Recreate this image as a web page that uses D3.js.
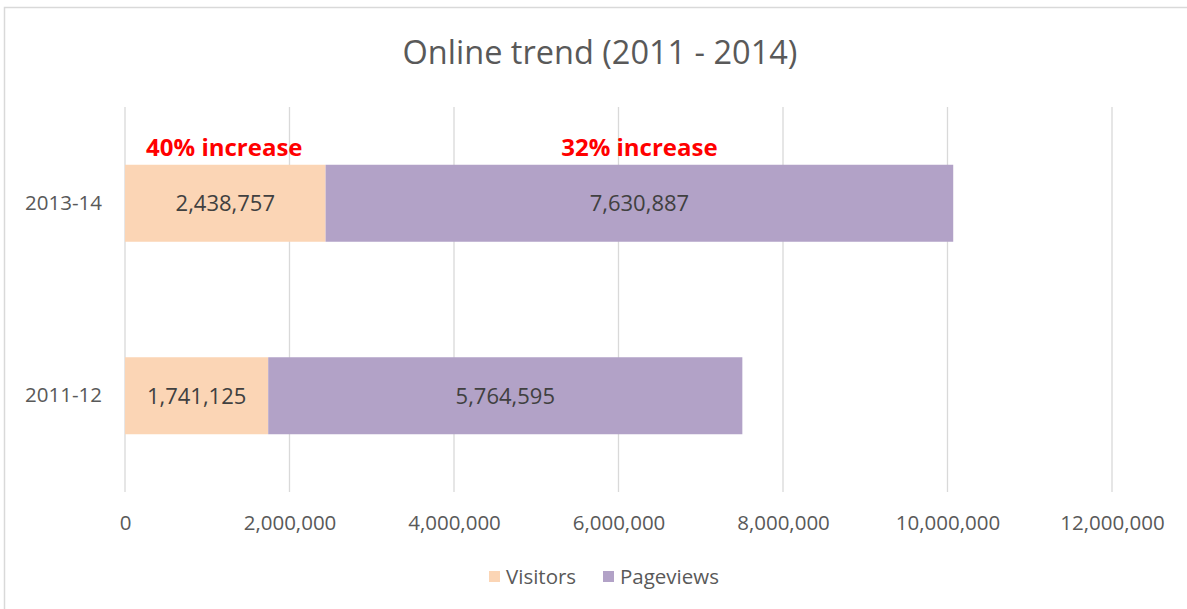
<!DOCTYPE html>
<html>
<head>
<meta charset="utf-8">
<script src="https://cdn.jsdelivr.net/npm/d3@7"></script>
<style>
  html, body { margin: 0; padding: 0; background: #fff; }
  svg { display: block; }
  text { font-family: "Open Sans", "Noto Sans", sans-serif; }
</style>
</head>
<body>
<script>
// ---- data ----
const categories = ["2013-14", "2011-12"];
const visitors = [2438757, 1741125];
const pageviews = [7630887, 5764595];
const seriesNames = ["Visitors", "Pageviews"];
const seriesColors = ["#FBD5B5", "#B2A2C7"];
const xTicks = [0, 2000000, 4000000, 6000000, 8000000, 10000000, 12000000];
const annotations = ["40% increase", "32% increase"];
const title = "Online trend (2011 - 2014)";

const W = 1187, H = 609;
const svg = d3.select("body").append("svg").attr("width", W).attr("height", H);

// chart frame
svg.append("rect").attr("x", 4.5).attr("y", 7.5).attr("width", W + 10).attr("height", H + 10)
  .attr("fill", "#fff").attr("stroke", "#D9D9D9").attr("stroke-width", 1.5);

const plot = { left: 125, right: 1112, top: 107, bottom: 492 };

const x = d3.scaleLinear().domain([0, 12000000]).range([plot.left, plot.right]);
const y = d3.scaleBand().domain(categories).range([plot.top, plot.bottom])
  .paddingInner(0.6).paddingOuter(0.3);

// gridlines
svg.append("g").selectAll("line").data(xTicks).join("line")
  .attr("x1", d => x(d)).attr("x2", d => x(d))
  .attr("y1", plot.top).attr("y2", plot.bottom)
  .attr("stroke", "#D9D9D9").attr("stroke-width", 1.3);

// x-axis labels
const fmt = d3.format(",");
const xAxis = d3.axisBottom(x).tickValues(xTicks).tickFormat(fmt).tickSize(0).tickPadding(0);
const gx = svg.append("g").attr("transform", `translate(0,${plot.bottom + 23})`).call(xAxis);
gx.select(".domain").remove();
gx.selectAll("text").attr("font-size", 20.5).attr("fill", "#595959")
  .attr("font-family", "'Open Sans', sans-serif").attr("dy", "0.71em");

// y-axis labels
const yAxis = d3.axisLeft(y).tickSize(0).tickPadding(23);
const gy = svg.append("g").attr("transform", `translate(${plot.left},0)`).call(yAxis);
gy.select(".domain").remove();
gy.selectAll("text").attr("font-size", 20.5).attr("fill", "#595959")
  .attr("font-family", "'Open Sans', sans-serif");

// stacked bars
const rows = categories.map((c, i) => ({ cat: c, Visitors: visitors[i], Pageviews: pageviews[i] }));
const stack = d3.stack().keys(seriesNames)(rows);
const color = d3.scaleOrdinal().domain(seriesNames).range(seriesColors);

const layers = svg.append("g").selectAll("g").data(stack).join("g")
  .attr("fill", d => color(d.key));
layers.selectAll("rect").data(d => d).join("rect")
  .attr("x", d => x(d[0])).attr("width", d => x(d[1]) - x(d[0]))
  .attr("y", d => y(d.data.cat)).attr("height", y.bandwidth());

// data labels
layers.selectAll("text.val").data(d => d).join("text").attr("class", "val")
  .attr("x", d => (x(d[0]) + x(d[1])) / 2)
  .attr("y", d => y(d.data.cat) + y.bandwidth() / 2)
  .attr("dy", "0.36em").attr("text-anchor", "middle")
  .attr("font-size", 22).attr("fill", "#404040")
  .text(d => fmt(d[1] - d[0]));

// annotations above top bar segments
const topRow = stack.map(s => s[0]);
svg.append("g").selectAll("text").data(topRow).join("text")
  .attr("x", (d, i) => (x(d[0]) + x(d[1])) / 2 + (i === 0 ? -1 : 0))
  .attr("y", y(categories[0]) - 9)
  .attr("text-anchor", "middle").attr("font-size", 24).attr("font-weight", "bold")
  .attr("fill", "#FF0000")
  .text((d, i) => annotations[i]);

// title
svg.append("text").attr("x", 600).attr("y", 64).attr("text-anchor", "middle")
  .attr("font-size", 32.5).attr("fill", "#595959").text(title);

// legend
const legend = svg.append("g").attr("transform", "translate(489,577)");
const legX = [0, 114];
const li = legend.selectAll("g").data(seriesNames).join("g")
  .attr("transform", (d, i) => `translate(${legX[i]},0)`);
li.append("rect").attr("x", 0).attr("y", -6).attr("width", 11).attr("height", 11)
  .attr("fill", d => color(d));
li.append("text").attr("x", 17).attr("y", 0).attr("dy", "0.35em")
  .attr("font-size", 20.5).attr("fill", "#595959").text(d => d);
</script>
</body>
</html>
